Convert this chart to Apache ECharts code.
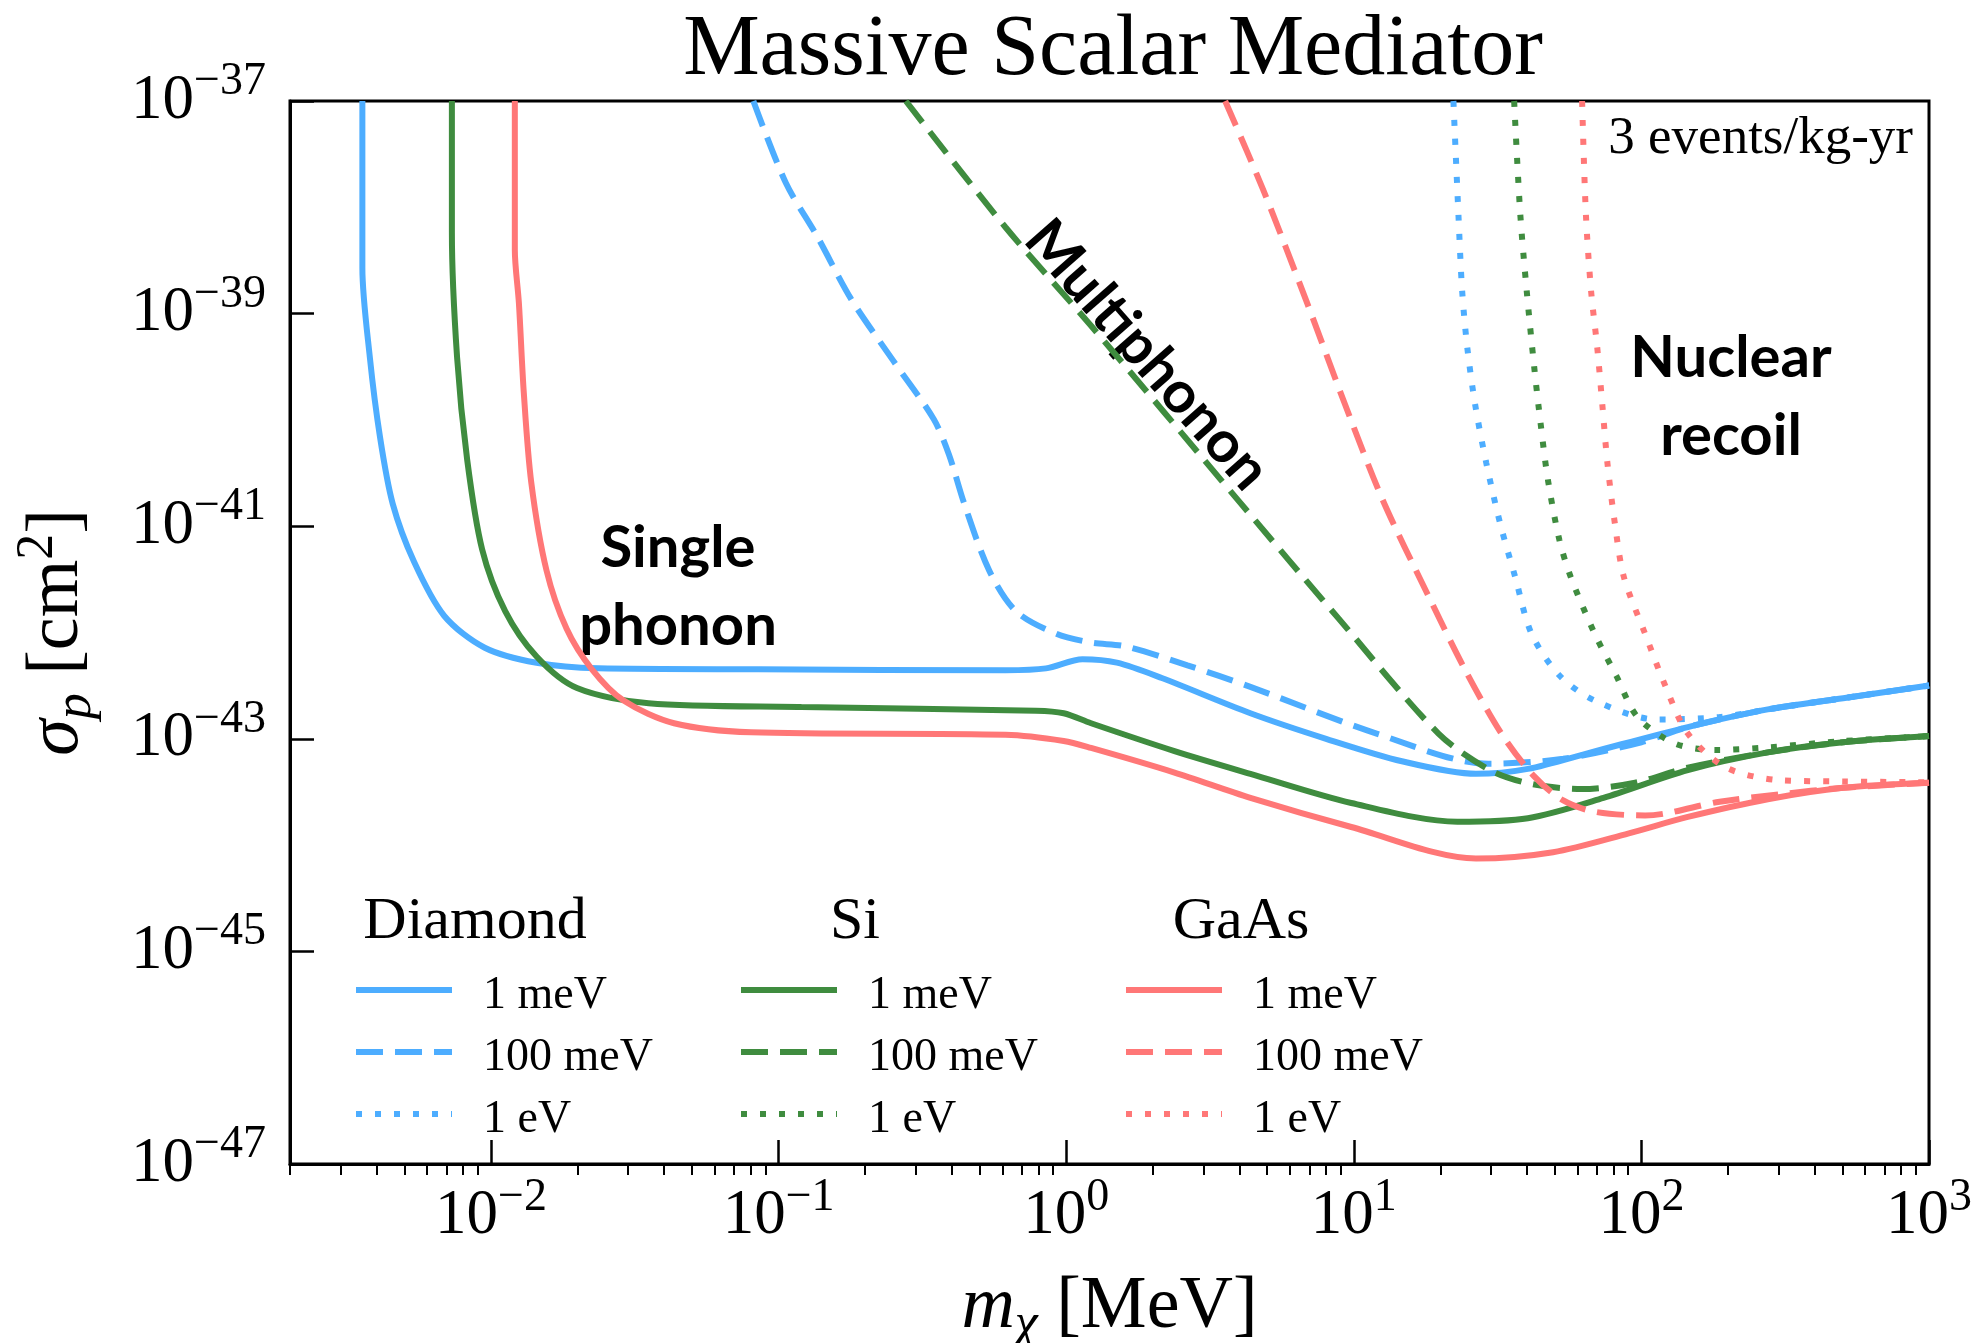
<!DOCTYPE html>
<html>
<head>
<meta charset="utf-8">
<script src="https://cdn.jsdelivr.net/npm/echarts@6/dist/echarts.min.js"></script>
<style>html,body{margin:0;padding:0;background:#fff;}#c{width:1979px;height:1343px;}</style>
</head>
<body>
<div id="c"></div>
<script>
// ---- data: [m_chi (MeV), sigma_p (cm^2)] ----
const diamond_1meV = [[3.57e-3,1e-37],[3.57e-3,2.70e-39],[3.79e-3,3.88e-40],[4.11e-3,6.93e-41],[4.55e-3,1.63e-41],[5.40e-3,4.62e-42],[6.88e-3,1.43e-42],[9.51e-3,7.19e-43],[1.44e-2,5.19e-43],[2.36e-2,4.6e-43],[8.5e-2,4.5e-43],[0.615,4.42e-43],[0.85,4.6e-43],[1.14,5.6e-43],[1.5,5.2e-43],[2.15,3.73e-43],[4.37,1.74e-43],[8.01,1.00e-43],[14.7,6.15e-44],[26.6,4.68e-44],[40.3,5.21e-44],[66.8,7.45e-44],[145,1.29e-43],[275,1.89e-43],[503,2.41e-43],[1000,3.17e-43]];
const diamond_100meV = [[8.17e-2,1e-37],[0.106,1.69e-38],[0.136,5.36e-39],[0.179,1.36e-39],[0.251,3.57e-40],[0.346,1.02e-40],[0.391,4.73e-41],[0.442,1.63e-41],[0.540,3.82e-42],[0.668,1.59e-42],[0.923,9.73e-43],[1.22,8.04e-43],[1.61,7.40e-43],[2.64,4.91e-43],[4.37,3.08e-43],[12.0,1.12e-43],[29.4,5.82e-44],[53.5,6.49e-44],[100,9.27e-44],[145,1.29e-43],[275,1.89e-43],[503,2.41e-43],[1000,3.17e-43]];
const diamond_1eV = [[22.2,1e-37],[23.1,8.77e-39],[23.8,1.66e-39],[24.8,4.83e-40],[26.4,1.41e-40],[28.9,3.90e-41],[32.3,1.05e-41],[36.4,3.33e-42],[41.5,9.73e-43],[51.9,3.94e-43],[68.8,2.29e-43],[113,1.52e-43],[187,1.60e-43],[275,1.89e-43],[503,2.41e-43],[1000,3.17e-43]];
const si_1meV = [[7.31e-3,1e-37],[7.31e-3,5.82e-39],[7.62e-3,3.88e-40],[8.26e-3,4.24e-41],[9.31e-3,6.08e-42],[1.12e-2,1.59e-42],[1.44e-2,5.94e-43],[1.99e-2,3.00e-43],[3.53e-2,2.16e-43],[0.120,1.99e-43],[0.785,1.84e-43],[0.98,1.74e-43],[1.22,1.40e-43],[2.38,7.66e-44],[4.37,4.68e-44],[9.80,2.49e-44],[22.9,1.66e-44],[40.3,1.79e-44],[73.8,2.78e-44],[145,5.07e-44],[275,7.45e-44],[503,9.27e-44],[1000,1.06e-43]];
const si_100meV = [[0.277,1e-37],[0.615,6.49e-39],[1.22,7.69e-40],[3.95,1.77e-41],[8.86,1.35e-42],[19.7,1.12e-43],[29.8,5.07e-44],[41.5,3.76e-44],[62.2,3.37e-44],[95.1,3.86e-44],[145,5.36e-44],[275,7.45e-44],[503,9.27e-44],[1000,1.06e-43]];
const si_1eV = [[36.1,1e-37],[37.9,8.77e-39],[39.9,1.66e-39],[42.4,3.12e-40],[44.6,9.35e-41],[47.3,2.74e-41],[51.9,7.36e-42],[56.8,3.33e-42],[68.8,9.73e-43],[81.7,3.94e-43],[97.0,1.60e-43],[131,9.02e-44],[183,7.85e-44],[275,8.30e-44],[503,9.53e-44],[1000,1.06e-43]];
const gaas_1meV = [[1.21e-2,1e-37],[1.21e-2,3.97e-39],[1.25e-2,1.26e-39],[1.30e-2,1.81e-40],[1.38e-2,2.59e-41],[1.56e-2,3.82e-42],[1.83e-2,1.09e-42],[2.24e-2,4.53e-43],[2.89e-2,2.29e-43],[4.33e-2,1.40e-43],[8.02e-2,1.15e-43],[0.615,1.09e-43],[0.98,9.53e-44],[1.22,8.2e-44],[2.38,4.81e-44],[4.37,2.78e-44],[9.80,1.48e-44],[26.6,7.48e-45],[49.3,8.58e-45],[90.4,1.29e-44],[145,1.84e-44],[275,2.70e-44],[503,3.46e-44],[1000,3.86e-44]];
const gaas_100meV = [[3.57,1e-37],[4.83,1.48e-38],[6.88,1.26e-39],[9.31,1.41e-40],[12.6,1.77e-41],[18.0,2.33e-42],[24.3,4.53e-43],[32.6,1.12e-43],[42.4,4.43e-44],[53.5,2.63e-44],[68.8,2.06e-44],[103,1.90e-44],[187,2.56e-44],[300,3.0e-44],[503,3.46e-44],[1000,3.86e-44]];
const gaas_1eV = [[62.2,1e-37],[64.1,8.77e-39],[66.8,1.66e-39],[70.2,4.83e-40],[73.1,1.41e-40],[76.2,3.90e-41],[80.9,1.05e-41],[86.9,3.33e-42],[103,9.73e-43],[122,3.00e-43],[145,1.12e-43],[197,5.36e-44],[307,4.07e-44],[503,3.97e-44],[1000,3.9e-44]];

// ---- ticks ----
const xMajorTicks = [1e-2, 1e-1, 1, 10, 100, 1000];
const yExponentMin = -47, yExponentMax = -37, yExponentStep = 2; // y tick labels 10^-47 ... 10^-37
const minorMultipliers = [2,3,4,5,6,7,8,9];
const minorDecades = [1e-3, 1e-2, 1e-1, 1, 10, 100];
const xMinorTicks = [];
minorDecades.forEach(d => minorMultipliers.forEach(k => { const v = +(k*d).toPrecision(3); if (v >= 0.002 && v <= 1000) xMinorTicks.push(v); }));

const materials = ['Diamond', 'Si', 'GaAs'];
const thresholds = ['1 meV', '100 meV', '1 eV'];
const colors = { Diamond: '#4dadff', Si: '#3f8c3f', GaAs: '#ff7777' };
const dashes = { '1 meV': 'solid', '100 meV': [27, 12], '1 eV': [6, 13] };
const seriesData = {
  Diamond: { '1 meV': diamond_1meV, '100 meV': diamond_100meV, '1 eV': diamond_1eV },
  Si: { '1 meV': si_1meV, '100 meV': si_100meV, '1 eV': si_1eV },
  GaAs: { '1 meV': gaas_1meV, '100 meV': gaas_100meV, '1 eV': gaas_1eV }
};

const SERIF = 'Liberation Serif';
const SANS = 'Lato';

function expLabel(e) {
  e = Math.round(e);
  const s = e < 0 ? '\u2212' + (-e) : String(e);
  return '{b|10}{s|' + s + '}';
}
const tickRich = {
  b: { fontFamily: SERIF, fontSize: 63, lineHeight: 63, verticalAlign: 'middle', color: '#000' },
  s: { fontFamily: SERIF, fontSize: 46, lineHeight: 46, verticalAlign: 'middle', padding: [0, 0, 38, 0], color: '#000' }
};
const nameRich = {
  i: { fontFamily: SERIF, fontStyle: 'italic', fontSize: 74, lineHeight: 74, verticalAlign: 'middle', color: '#000' },
  r: { fontFamily: SERIF, fontSize: 74, lineHeight: 74, verticalAlign: 'middle', color: '#000' },
  sub: { fontFamily: SERIF, fontStyle: 'italic', fontSize: 52, lineHeight: 52, verticalAlign: 'middle', padding: [36, 0, 0, 0], color: '#000' },
  sup: { fontFamily: SERIF, fontSize: 52, lineHeight: 52, verticalAlign: 'middle', padding: [0, 0, 40, 0], color: '#000' }
};

const series = [];
materials.forEach(m => thresholds.forEach(t => {
  series.push({
    name: m + ' ' + t,
    type: 'line',
    xAxisIndex: 0,
    yAxisIndex: 0,
    data: seriesData[m][t],
    showSymbol: false,
    symbol: 'none',
    smooth: 0.3,
    clip: true,
    lineStyle: { color: colors[m], width: 6, type: dashes[t] },
    itemStyle: { color: colors[m] },
    emphasis: { disabled: true },
    z: 3
  });
}));

const legendLefts = [353, 738, 1123];
const legends = materials.map((m, i) => ({
  orient: 'vertical',
  left: legendLefts[i],
  top: 961,
  padding: 0,
  itemWidth: 96,
  itemHeight: 14,
  itemGap: 4,
  selectedMode: false,
  data: thresholds.map(t => m + ' ' + t),
  formatter: name => '{t|' + name.slice(m.length + 1) + '}',
  lineStyle: { width: 6 },
  itemStyle: { color: 'rgba(0,0,0,0)', borderWidth: 0, opacity: 0 },
  textStyle: {
    color: '#000',
    rich: { t: { fontFamily: SERIF, fontSize: 46, lineHeight: 40, color: '#000', padding: [12, 0, 0, 26] } }
  }
}));

const chart = echarts.init(document.getElementById('c'), null, { renderer: 'canvas' });
chart.setOption({
  backgroundColor: '#fff',
  animation: false,
  title: {
    text: 'Massive Scalar Mediator',
    left: 1108,
    top: 3,
    textAlign: 'center',
    textStyle: { fontFamily: SERIF, fontSize: 86, fontWeight: 'normal', color: '#000' }
  },
  grid: { left: 290, right: 50, top: 101, bottom: 179, containLabel: false, outerBoundsMode: 'none', show: true, borderColor: '#000', borderWidth: 3, backgroundColor: 'transparent' },
  legend: legends,
  xAxis: [{
    type: 'log', logBase: 10, min: 0.002, max: 1000, position: 'bottom',
    name: '{i|m}{sub|\u03c7}{r| [MeV]}', nameLocation: 'middle', nameGap: 96,
    nameTextStyle: { rich: nameRich },
    axisLine: { show: true, lineStyle: { color: '#000', width: 3 } },
    axisTick: { show: true, inside: true, length: 24, customValues: xMajorTicks, lineStyle: { color: '#000', width: 2.5 } },
    axisLabel: { show: true, customValues: xMajorTicks, margin: 21, formatter: v => expLabel(Math.log10(v)), rich: tickRich, showMinLabel: true, showMaxLabel: true },
    splitLine: { show: false }, minorTick: { show: false }, minorSplitLine: { show: false }
  }, {
    type: 'log', logBase: 10, min: 0.002, max: 1000, position: 'bottom', gridIndex: 0,
    axisLine: { show: false },
    axisTick: { show: true, inside: false, length: 11, customValues: xMinorTicks, lineStyle: { color: '#000', width: 2 } },
    axisLabel: { show: false },
    splitLine: { show: false }
  }],
  yAxis: [{
    // log axis carrying the data
    type: 'log', logBase: 10, min: 1e-47, max: 1e-37, position: 'left',
    name: '{i|\u03c3}{sub|p}{r| [cm}{sup|2}{r|]}', nameLocation: 'middle', nameGap: 195, nameRotate: 90,
    nameTextStyle: { rich: nameRich },
    axisLine: { show: true, lineStyle: { color: '#000', width: 3 } },
    axisTick: { show: false },
    axisLabel: { show: false },
    splitLine: { show: false }
  }, {
    // same decades in exponent units, for the ticks and labels
    type: 'value', min: yExponentMin, max: yExponentMax, interval: yExponentStep, position: 'left', gridIndex: 0,
    axisLine: { show: false },
    axisTick: { show: true, inside: true, length: 24, lineStyle: { color: '#000', width: 2.5 } },
    axisLabel: { show: true, margin: 24, formatter: v => expLabel(v), rich: tickRich, showMinLabel: true, showMaxLabel: true },
    splitLine: { show: false }
  }],
  graphic: [
    { type: 'text', x: 475, y: 922, style: { text: 'Diamond', fontFamily: SERIF, fontSize: 60, fill: '#000', align: 'center', verticalAlign: 'middle' } },
    { type: 'text', x: 855, y: 922, style: { text: 'Si', fontFamily: SERIF, fontSize: 60, fill: '#000', align: 'center', verticalAlign: 'middle' } },
    { type: 'text', x: 1241, y: 922, style: { text: 'GaAs', fontFamily: SERIF, fontSize: 60, fill: '#000', align: 'center', verticalAlign: 'middle' } },
    { type: 'text', x: 1913, y: 139, style: { text: '3 events/kg-yr', fontFamily: SERIF, fontSize: 53, fill: '#000', align: 'right', verticalAlign: 'middle' } },
    { type: 'text', x: 678, y: 587, style: { text: 'Single\nphonon', fontFamily: SANS, fontWeight: 'bold', fontSize: 58, lineHeight: 78, fill: '#000', align: 'center', verticalAlign: 'middle' } },
    { type: 'text', x: 1731, y: 397, style: { text: 'Nuclear\nrecoil', fontFamily: SANS, fontWeight: 'bold', fontSize: 58, lineHeight: 78, fill: '#000', align: 'center', verticalAlign: 'middle' } },
    { type: 'text', x: 1147, y: 355, rotation: -0.85, style: { text: 'Multiphonon', fontFamily: SANS, fontWeight: 'bold', fontSize: 58, fill: '#000', align: 'center', verticalAlign: 'middle' } }
  ],
  series: series
});
</script>
</body>
</html>
